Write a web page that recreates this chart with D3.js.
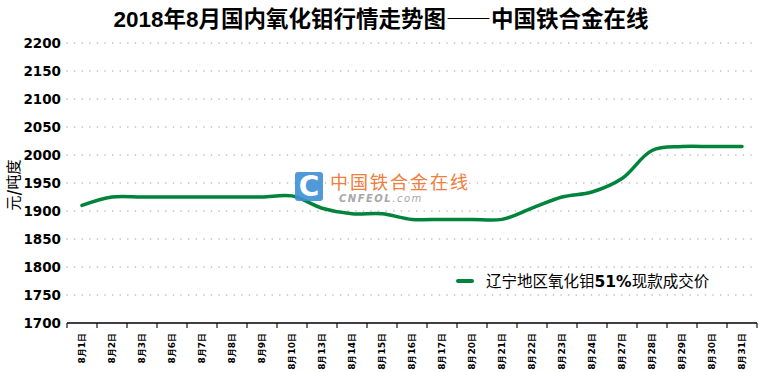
<!DOCTYPE html>
<html lang="zh">
<head>
<meta charset="utf-8">
<title>2018年8月国内氧化钼行情走势图</title>
<script src="https://cdn.jsdelivr.net/npm/d3@7"></script>
<style>
  body { margin: 0; background: #fff; }
  svg { display: block; }
</style>
</head>
<body>
<svg id="chart" width="760" height="372"></svg>
<script>
// trading days of August 2018
var days = ["8月1日","8月2日","8月3日","8月6日","8月7日","8月8日","8月9日","8月10日",
            "8月13日","8月14日","8月15日","8月16日","8月17日","8月20日","8月21日","8月22日",
            "8月23日","8月24日","8月27日","8月28日","8月29日","8月30日","8月31日"];
// 辽宁地区氧化钼51%现款成交价 (元/吨度)
var prices = [1910, 1925, 1925, 1925, 1925, 1925, 1925, 1927,
              1905, 1895, 1895, 1885, 1885, 1885, 1885, 1905,
              1925, 1934, 1958, 2008, 2015, 2015, 2015];
var yTicks = [1700, 1750, 1800, 1850, 1900, 1950, 2000, 2050, 2100, 2150, 2200];

var svg = d3.select("#chart");
var margin = {top: 43, right: 3, bottom: 49, left: 67},
    width = 760 - margin.left - margin.right,
    height = 372 - margin.top - margin.bottom;

var g = svg.append("g").attr("transform", "translate(" + margin.left + "," + margin.top + ")");

var x = d3.scaleBand().domain(days).range([0, width]);
var y = d3.scaleLinear().domain([1700, 2200]).range([height, 0]);

var green = "#00843c";

// title
svg.append("text")
  .attr("x", 381).attr("y", 27)
  .attr("text-anchor", "middle")
  .style("font-family", "'Noto Sans CJK SC', sans-serif")
  .style("font-weight", "bold")
  .style("font-size", "22.5px")
  .html("<tspan font-family='Liberation Sans'>2018</tspan>年<tspan font-family='Liberation Sans'>8</tspan>月国内氧化钼行情走势图——中国铁合金在线");

// dotted grid
g.selectAll("line.grid")
  .data(yTicks.slice(1))
  .enter().append("line")
  .attr("class", "grid")
  .attr("x1", 0).attr("x2", width)
  .attr("y1", function(d) { return y(d); })
  .attr("y2", function(d) { return y(d); })
  .attr("stroke", "#b8b8b8")
  .attr("stroke-width", 1.6)
  .attr("stroke-linecap", "round")
  .attr("stroke-dasharray", "0.1,7.5");

// y labels
g.selectAll("text.ylab")
  .data(yTicks)
  .enter().append("text")
  .attr("class", "ylab")
  .attr("x", -6)
  .attr("y", function(d) { return y(d); })
  .attr("dy", "0.36em")
  .attr("text-anchor", "end")
  .style("font-family", "'DejaVu Sans', Verdana, sans-serif")
  .style("font-weight", "bold")
  .style("font-size", "13.5px")
  .text(function(d) { return d; });

// y title
svg.append("text")
  .attr("transform", "translate(19,185) rotate(-90)")
  .attr("text-anchor", "middle")
  .style("font-family", "'Noto Sans CJK SC', sans-serif")
  .style("font-size", "15px")
  .html("元<tspan font-weight='bold'>/</tspan>吨度");

// x axis, ticks at band edges
g.append("line")
  .attr("x1", 0).attr("x2", width)
  .attr("y1", height).attr("y2", height)
  .attr("stroke", "#000").attr("stroke-width", 1.3);

g.selectAll("line.xtick")
  .data(d3.range(days.length + 1))
  .enter().append("line")
  .attr("class", "xtick")
  .attr("x1", function(i) { return i * x.step(); })
  .attr("x2", function(i) { return i * x.step(); })
  .attr("y1", height).attr("y2", height + 5)
  .attr("stroke", "#000").attr("stroke-width", 1.1);

g.selectAll("text.xlab")
  .data(days)
  .enter().append("text")
  .attr("class", "xlab")
  .attr("transform", function(d) {
    return "translate(" + (x(d) + x.bandwidth() / 2 + 3) + "," + (height + 10) + ") rotate(-90)";
  })
  .attr("text-anchor", "end")
  .style("font-family", "'DejaVu Sans', Verdana, sans-serif")
  .style("font-weight", "bold")
  .style("font-size", "9px")
  .text(function(d) { return d; });

// watermark
var wm = svg.append("g").attr("transform", "translate(295,172)");
wm.append("rect")
  .attr("width", 28).attr("height", 29).attr("rx", 3)
  .attr("fill", "#3d8fd6").attr("opacity", 0.9);
wm.append("text")
  .attr("x", 14).attr("y", 24)
  .attr("text-anchor", "middle")
  .attr("fill", "#fff")
  .style("font-family", "'DejaVu Sans', sans-serif")
  .style("font-weight", "bold")
  .style("font-size", "28px")
  .text("C");
wm.append("text")
  .attr("x", 35).attr("y", 17)
  .attr("fill", "#f07e3c")
  .style("font-family", "'Noto Sans CJK SC', sans-serif")
  .style("font-size", "18px")
  .style("letter-spacing", "2px")
  .text("中国铁合金在线");
wm.append("text")
  .attr("x", 44).attr("y", 30)
  .attr("fill", "#a8a8a8")
  .style("font-family", "'DejaVu Sans', sans-serif")
  .style("font-style", "italic")
  .style("font-size", "10px")
  .style("letter-spacing", "1.5px")
  .html("<tspan font-weight='bold'>CNFEOL</tspan>.com");

// price line
var line = d3.line()
  .x(function(d, i) { return x(days[i]) + x.bandwidth() / 2; })
  .y(function(d) { return y(d); })
  .curve(d3.curveCatmullRom.alpha(0.5));

g.append("path")
  .datum(prices)
  .attr("fill", "none")
  .attr("stroke", green)
  .attr("stroke-width", 3.5)
  .attr("stroke-linecap", "round")
  .attr("d", line);

// legend
var lg = svg.append("g").attr("transform", "translate(458,281)");
lg.append("line")
  .attr("x1", 0).attr("x2", 14)
  .attr("stroke", green).attr("stroke-width", 4).attr("stroke-linecap", "round");
lg.append("text")
  .attr("x", 28).attr("y", 6)
  .style("font-family", "'Noto Sans CJK SC', sans-serif")
  .style("font-size", "15.5px")
  .html("辽宁地区氧化钼<tspan font-weight='bold' font-family='DejaVu Sans'>51%</tspan>现款成交价");
</script>
</body>
</html>
